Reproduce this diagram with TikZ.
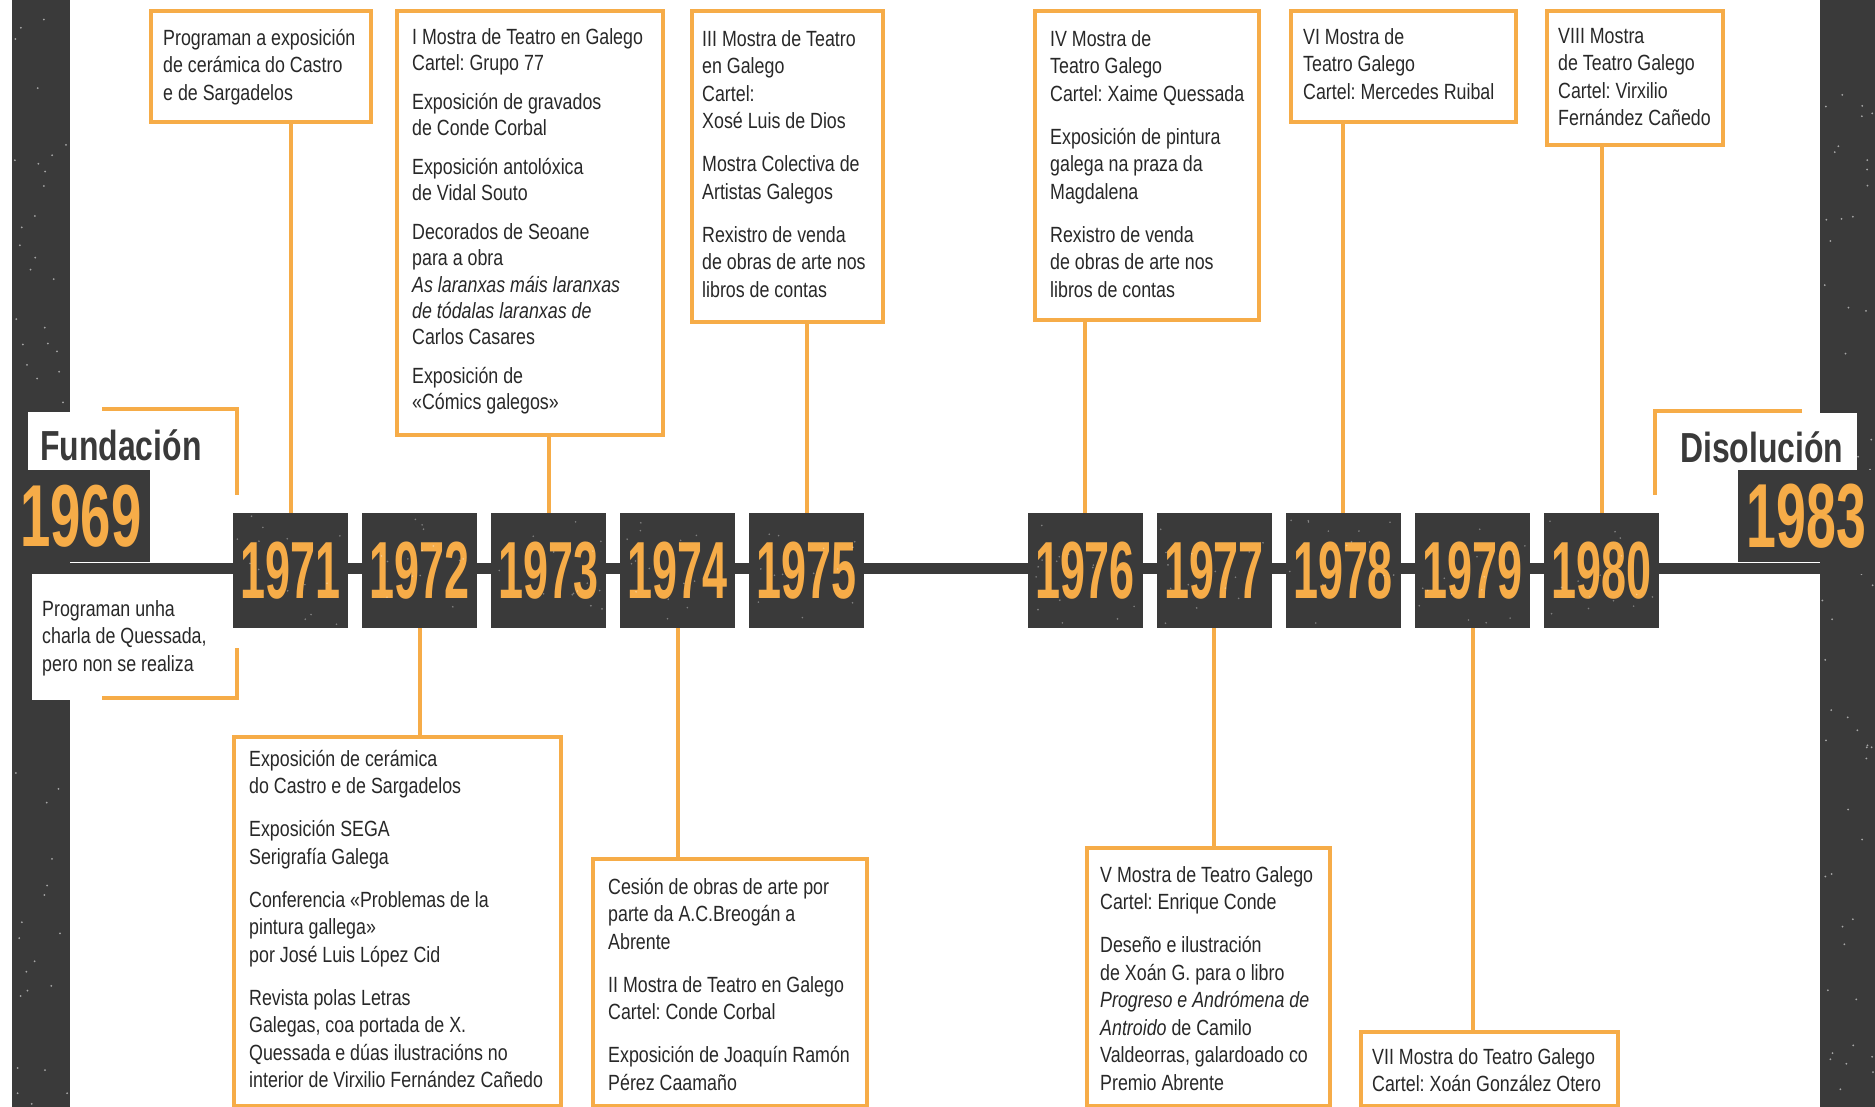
\documentclass[tikz,border=0pt]{standalone}
\usepackage{fontspec}
\usepackage{graphicx}
\setmainfont{Liberation Sans}[FakeStretch=0.81]
\newfontfamily\yearfont{Liberation Sans}
\newfontfamily\headfont{Liberation Sans}[FakeStretch=0.76]
\definecolor{dk}{RGB}{58,58,58}
\definecolor{org}{RGB}{246,172,72}
\definecolor{txtc}{RGB}{40,40,40}
\newlength\pgapl
\setlength\pgapl{15.5pt}
\frenchspacing
\newcommand\fst{\rule{0pt}{18pt}}
\newcommand\yrtxt[3]{{\yearfont\bfseries\fontsize{#1}{#1}\selectfont\scalebox{#2}[1]{\textcolor{org}{#3}}}}
\tikzset{
 obox/.style={draw=org, line width=4pt, fill=white, inner sep=0pt, anchor=north west},
 btxt/.style={anchor=north west, inner sep=0pt, align=left, text=txtc, font=\frenchspacing\fontsize{22}{27.5}\selectfont},
 ybox/.style={fill=dk, minimum width=115pt, minimum height=115pt, inner sep=0pt},
 conn/.style={draw=org, line width=4pt},
 brk/.style={draw=org, line width=4.5pt},
 tline/.style={draw=dk, line width=11pt},
 headtxt/.style={anchor=base west, inner sep=0pt, text=dk, font=\headfont\bfseries\fontsize{42}{42}\selectfont},
}
\begin{document}
\begin{tikzpicture}[x=1pt,y=-1pt]
\useasboundingbox (0,0) rectangle (1875,1107);
\fill[white] (0,0) rectangle (1875,1107);
% side bands
\fill[dk] (12,0) rectangle (70,1107);
\fill[dk] (1820,0) rectangle (1875,1107);
\pgfmathsetseed{42}
\foreach \i in {1,...,60}{\pgfmathsetmacro\xx{14+54*rnd}\pgfmathsetmacro\yy{1107*rnd}\fill[white,opacity=.55] (\xx,\yy) circle[radius=1pt];}
\foreach \i in {1,...,60}{\pgfmathsetmacro\xx{1822+51*rnd}\pgfmathsetmacro\yy{1107*rnd}\fill[white,opacity=.55] (\xx,\yy) circle[radius=1pt];}
% white overlays
\fill[white] (28,412) rectangle (150,470);
\fill[white] (32,573) rectangle (150,700);
\fill[white] (1700,413) rectangle (1857,470);
% timeline
\coordinate (tlL) at (12,568);
\coordinate (tlR) at (1875,568);
\draw[tline] (tlL) -- (tlR);
% end boxes
\node[fill=dk, minimum width=138pt, minimum height=92pt, inner sep=0pt] (y1969) at (81,516) {\yrtxt{88}{0.62}{1969}};
\node[fill=dk, minimum width=137pt, minimum height=92pt, inner sep=0pt] (y1983) at (1806.5,516) {\yrtxt{91}{0.59}{1983}};
\node[headtxt] (fund) at (40,460) {Fundación};
\node[headtxt] (disol) at (1680,462) {Disolución};
% brackets
\draw[brk] (102,409) -- (237,409) -- (237,495);
\draw[brk] (237,648) -- (237,698) -- (102,698);
\draw[brk] (1802,411) -- (1655,411) -- (1655,495);
% year boxes
\node[ybox] (y1971) at (290.5,570.5) {\yrtxt{81}{0.555}{1971}};
\node[ybox] (y1972) at (419.5,570.5) {\yrtxt{81}{0.555}{1972}};
\node[ybox] (y1973) at (548.5,570.5) {\yrtxt{81}{0.555}{1973}};
\node[ybox] (y1974) at (677.5,570.5) {\yrtxt{81}{0.555}{1974}};
\node[ybox] (y1975) at (806.5,570.5) {\yrtxt{81}{0.555}{1975}};
\node[ybox] (y1976) at (1085,570.5) {\yrtxt{81}{0.555}{1976}};
\node[ybox] (y1977) at (1214,570.5) {\yrtxt{81}{0.555}{1977}};
\node[ybox] (y1978) at (1343,570.5) {\yrtxt{81}{0.555}{1978}};
\node[ybox] (y1979) at (1472.5,570.5) {\yrtxt{81}{0.555}{1979}};
\node[ybox] (y1980) at (1601.5,570.5) {\yrtxt{81}{0.555}{1980}};
\foreach \c in {290.5,419.5,548.5,677.5,806.5,1085,1214,1343,1472.5,1601.5}{
  \foreach \i in {1,...,14}{\pgfmathsetmacro\xx{\c-54+108*rnd}\pgfmathsetmacro\yy{516+109*rnd}\fill[white,opacity=.35] (\xx,\yy) circle[radius=0.9pt];}}
% left note
\node[btxt] (tL) at (42,598) {\fst Programan unha\\charla de Quessada,\\pero non se realiza};
% top boxes
\node[obox, minimum width=220pt, minimum height=111pt] (bA) at (149,9.5) {};
\node[btxt] (tA) at (163,27) {\fst Programan a exposición\\de cerámica do Castro\\e de Sargadelos};
\node[obox, minimum width=266pt, minimum height=423.5pt] (bB) at (395,9.5) {};
\node[btxt, font=\fontsize{22}{26.3}\selectfont] (tB) at (412,26) {\fst I Mostra de Teatro en Galego\\Cartel: Grupo 77\\[12.5pt]Exposición de gravados\\de Conde Corbal\\[12.5pt]Exposición antolóxica\\de Vidal Souto\\[12.5pt]Decorados de Seoane\\para a obra\\\textit{As laranxas máis laranxas}\\\textit{de tódalas laranxas de}\\Carlos Casares\\[12.5pt]Exposición de\\«Cómics galegos»};
\node[obox, minimum width=191pt, minimum height=310.5pt] (bC) at (690,9.5) {};
\node[btxt] (tC) at (702,28) {\fst III Mostra de Teatro\\en Galego\\Cartel:\\Xosé Luis de Dios\\[\pgapl]Mostra Colectiva de\\Artistas Galegos\\[\pgapl]Rexistro de venda\\de obras de arte nos\\libros de contas};
\node[obox, minimum width=224pt, minimum height=308.5pt] (bD) at (1033,9.5) {};
\node[btxt] (tD) at (1050,28) {\fst IV Mostra de\\Teatro Galego\\Cartel: Xaime Quessada\\[\pgapl]Exposición de pintura\\galega na praza da\\Magdalena\\[\pgapl]Rexistro de venda\\de obras de arte nos\\libros de contas};
\node[obox, minimum width=225pt, minimum height=111pt] (bE) at (1289,9.5) {};
\node[btxt] (tE) at (1303,26) {\fst VI Mostra de\\Teatro Galego\\Cartel: Mercedes Ruibal};
\node[obox, minimum width=176pt, minimum height=134pt] (bF) at (1545,9.5) {};
\node[btxt] (tF) at (1558,25) {\fst VIII Mostra\\de Teatro Galego\\Cartel: Virxilio\\Fernández Cañedo};
% bottom boxes
\node[obox, minimum width=327pt, minimum height=369pt] (bG) at (232,735) {};
\node[btxt] (tG) at (249,748) {\fst Exposición de cerámica\\do Castro e de Sargadelos\\[\pgapl]Exposición SEGA\\Serigrafía Galega\\[\pgapl]Conferencia «Problemas de la\\pintura gallega»\\por José Luis López Cid\\[\pgapl]Revista polas Letras\\Galegas, coa portada de X.\\Quessada e dúas ilustracións no\\interior de Virxilio Fernández Cañedo};
\node[obox, minimum width=274pt, minimum height=247pt] (bH) at (591,857) {};
\node[btxt] (tH) at (608,876) {\fst Cesión de obras de arte por\\parte da A.C.Breogán a\\Abrente\\[\pgapl]II Mostra de Teatro en Galego\\Cartel: Conde Corbal\\[\pgapl]Exposición de Joaquín Ramón\\Pérez Caamaño};
\node[obox, minimum width=243pt, minimum height=258pt] (bI) at (1085,846) {};
\node[btxt] (tI) at (1100,864) {\fst V Mostra de Teatro Galego\\Cartel: Enrique Conde\\[\pgapl]Deseño e ilustración\\de Xoán G. para o libro\\\textit{Progreso e Andrómena de}\\\textit{Antroido} de Camilo\\Valdeorras, galardoado co\\Premio Abrente};
\node[obox, minimum width=257pt, minimum height=74pt] (bJ) at (1359,1030) {};
\node[btxt] (tJ) at (1372,1046) {\fst VII Mostra do Teatro Galego\\Cartel: Xoán González Otero};
% connectors
\draw[conn] (bA.south -| y1971.north) -- (y1971.north);
\draw[conn] (bB.south -| y1973.north) -- (y1973.north);
\draw[conn] (bC.south -| y1975.north) -- (y1975.north);
\draw[conn] (bD.south -| y1976.north) -- (y1976.north);
\draw[conn] (bE.south -| y1978.north) -- (y1978.north);
\draw[conn] (bF.south -| y1980.north) -- (y1980.north);
\draw[conn] (y1972.south) -- (y1972.south |- bG.north);
\draw[conn] (y1974.south) -- (y1974.south |- bH.north);
\draw[conn] (y1977.south) -- (y1977.south |- bI.north);
\draw[conn] (y1979.south) -- (y1979.south |- bJ.north);
\end{tikzpicture}
\end{document}
